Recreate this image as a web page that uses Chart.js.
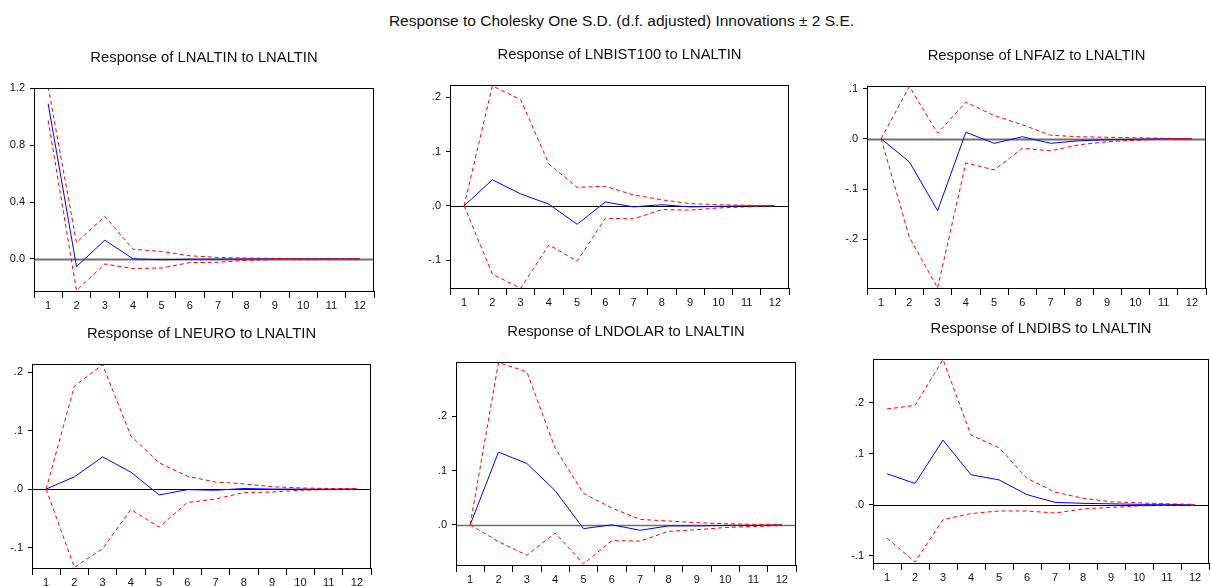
<!DOCTYPE html>
<html>
<head>
<meta charset="utf-8">
<script src="https://cdn.jsdelivr.net/npm/chart.js@4.4.1/dist/chart.umd.min.js"></script>
<style>
  html, body { margin: 0; padding: 0; background: #fff; overflow: hidden; }
  body { width: 1211px; height: 586px; position: relative; }
  #title { position: absolute; left: 0; width: 1243px; top: 12px; text-align: center;
           font: 15.5px "Liberation Sans", Arial, sans-serif; color: #111; }
  canvas { position: absolute; }
</style>
</head>
<body>
<div id="title">Response to Cholesky One S.D. (d.f. adjusted) Innovations ± 2 S.E.</div>
<script>
const horizons = ['1', '2', '3', '4', '5', '6', '7', '8', '9', '10', '11', '12'];

// LNALTIN to LNALTIN
const altinResp  = [1.092, -0.054, 0.132, 0.000, -0.006, -0.002, -0.002, 0.000, 0.000, 0.000, 0.000, 0.000];
const altinUpper = [1.210, 0.115, 0.299, 0.068, 0.052, 0.022, 0.010, 0.006, 0.004, 0.002, 0.001, 0.000];
const altinLower = [0.975, -0.223, -0.036, -0.068, -0.064, -0.026, -0.024, -0.010, -0.004, -0.002, -0.001, 0.000];
const altinTicks = [0, 0.4, 0.8, 1.2];

// LNBIST100 to LNALTIN
const bistResp  = [0.000, 0.048, 0.022, 0.003, -0.034, 0.007, -0.002, 0.002, -0.002, -0.001, 0.000, 0.000];
const bistUpper = [0.000, 0.221, 0.196, 0.077, 0.034, 0.036, 0.020, 0.011, 0.004, 0.002, 0.001, 0.000];
const bistLower = [0.000, -0.126, -0.152, -0.072, -0.102, -0.023, -0.024, -0.007, -0.008, -0.004, -0.002, 0.000];
const bistTicks = [-0.1, 0, 0.1, 0.2];

// LNFAIZ to LNALTIN
const faizResp  = [0.000, -0.046, -0.143, 0.013, -0.009, 0.004, -0.009, -0.004, -0.002, -0.001, 0.000, 0.000];
const faizUpper = [0.000, 0.104, 0.011, 0.073, 0.046, 0.028, 0.007, 0.004, 0.003, 0.002, 0.001, 0.000];
const faizLower = [0.000, -0.196, -0.297, -0.048, -0.062, -0.019, -0.024, -0.012, -0.006, -0.003, -0.001, 0.000];
const faizTicks = [-0.2, -0.1, 0, 0.1];

// LNEURO to LNALTIN
const euroResp  = [0.000, 0.021, 0.055, 0.029, -0.010, -0.001, -0.002, 0.001, 0.000, 0.000, 0.000, 0.000];
const euroUpper = [0.000, 0.176, 0.213, 0.091, 0.045, 0.022, 0.012, 0.009, 0.004, 0.002, 0.001, 0.001];
const euroLower = [0.000, -0.134, -0.102, -0.035, -0.065, -0.023, -0.017, -0.006, -0.005, -0.002, -0.001, 0.000];
const euroTicks = [-0.1, 0, 0.1, 0.2];

// LNDOLAR to LNALTIN
const dolarResp  = [0.000, 0.134, 0.113, 0.063, -0.007, 0.000, -0.010, -0.002, -0.002, -0.001, -0.001, 0.000];
const dolarUpper = [0.000, 0.299, 0.282, 0.141, 0.058, 0.031, 0.010, 0.007, 0.004, 0.002, 0.001, 0.001];
const dolarLower = [0.000, -0.031, -0.056, -0.015, -0.072, -0.029, -0.030, -0.012, -0.009, -0.005, -0.003, -0.001];
const dolarTicks = [0, 0.1, 0.2];

// LNDIBS to LNALTIN
const dibsResp  = [0.061, 0.042, 0.127, 0.059, 0.049, 0.020, 0.005, 0.003, 0.002, 0.001, 0.001, 0.000];
const dibsUpper = [0.188, 0.195, 0.285, 0.137, 0.112, 0.052, 0.025, 0.013, 0.006, 0.004, 0.002, 0.001];
const dibsLower = [-0.065, -0.112, -0.029, -0.017, -0.012, -0.012, -0.016, -0.008, -0.005, -0.002, -0.001, -0.001];
const dibsTicks = [-0.1, 0, 0.1, 0.2];

const panels = [
  { title: 'Response of LNALTIN to LNALTIN', resp: altinResp, up: altinUpper, lo: altinLower, ticks: altinTicks,
    min: -0.226, max: 1.203, box: [34, 88, 374, 291], zero: '#707070', zw: 2, lead: true },
  { title: 'Response of LNBIST100 to LNALTIN', resp: bistResp, up: bistUpper, lo: bistLower, ticks: bistTicks,
    min: -0.1515, max: 0.2227, box: [450, 85, 789, 288], zero: '#000', zw: 1, lead: false },
  { title: 'Response of LNFAIZ to LNALTIN', resp: faizResp, up: faizUpper, lo: faizLower, ticks: faizTicks,
    min: -0.297, max: 0.105, box: [867, 86, 1206, 288], zero: '#707070', zw: 2, lead: false },
  { title: 'Response of LNEURO to LNALTIN', resp: euroResp, up: euroUpper, lo: euroLower, ticks: euroTicks,
    min: -0.135, max: 0.214, box: [32, 364, 371, 568], zero: '#000', zw: 1, lead: false },
  { title: 'Response of LNDOLAR to LNALTIN', resp: dolarResp, up: dolarUpper, lo: dolarLower, ticks: dolarTicks,
    min: -0.074, max: 0.30, box: [456, 362, 796, 565], zero: '#707070', zw: 1.5, lead: false },
  { title: 'Response of LNDIBS to LNALTIN', resp: dibsResp, up: dibsUpper, lo: dibsLower, ticks: dibsTicks,
    min: -0.114, max: 0.286, box: [873, 359, 1209, 563], zero: '#000', zw: 1, lead: false }
];

const FONT = '"Liberation Sans", Arial, sans-serif';
const AXIS_W = 34, TOP = 45, BOTTOM = 24, RIGHT = 10;
const TITLE_SIZE = 14.8;

// frame round the plot and the zero line
const framePlugin = {
  id: 'frame',
  beforeDatasetsDraw(chart, args, opts) {
    const { ctx, chartArea: a } = chart;
    const y0 = Math.round(chart.scales.y.getPixelForValue(0)) + 0.5;
    ctx.save();
    ctx.strokeStyle = opts.zero;
    ctx.lineWidth = opts.zw;
    ctx.beginPath();
    ctx.moveTo(a.left, y0);
    ctx.lineTo(a.right, y0);
    ctx.stroke();
    ctx.restore();
  },
  afterDraw(chart) {
    const { ctx, chartArea: a } = chart;
    ctx.save();
    ctx.strokeStyle = '#000';
    ctx.lineWidth = 1;
    ctx.strokeRect(Math.round(a.left) + 0.5, Math.round(a.top) + 0.5,
                   Math.round(a.right - a.left) - 1, Math.round(a.bottom - a.top));
    ctx.restore();
  }
};

function fmt(v, lead) {
  let s = v.toFixed(1);
  if (!lead) s = s.replace('0.', '.');
  return s;
}

panels.forEach(p => {
  const [l, t, r, b] = p.box;
  const cv = document.createElement('canvas');
  const w = AXIS_W + (r - l) + RIGHT, h = TOP + (b - t) + BOTTOM;
  cv.width = w; cv.height = h;
  cv.style.left = (l - AXIS_W) + 'px';
  cv.style.top = (t - TOP) + 'px';
  cv.style.width = w + 'px'; cv.style.height = h + 'px';
  document.body.appendChild(cv);

  new Chart(cv, {
    type: 'line',
    data: {
      labels: horizons,
      datasets: [
        { data: p.up, borderColor: '#ff0000', borderWidth: 1, borderDash: [4, 3], pointRadius: 0, tension: 0 },
        { data: p.lo, borderColor: '#ff0000', borderWidth: 1, borderDash: [4, 3], pointRadius: 0, tension: 0 },
        { data: p.resp, borderColor: '#0000ff', borderWidth: 1, pointRadius: 0, tension: 0 }
      ]
    },
    options: {
      responsive: false,
      animation: false,
      events: [],
      layout: { padding: { top: 0, right: RIGHT, bottom: 0, left: 0 } },
      plugins: {
        legend: { display: false },
        tooltip: { enabled: false },
        title: {
          display: true,
          text: p.title,
          fullSize: false,
          color: '#111',
          font: { family: FONT, size: TITLE_SIZE, weight: 'normal', lineHeight: 1.2 },
          padding: { top: 5.6, bottom: TOP - 5.6 - TITLE_SIZE * 1.2 }
        },
        frame: { zero: p.zero, zw: p.zw }
      },
      scales: {
        x: {
          type: 'category',
          offset: true,
          grid: { display: true, offset: true, drawOnChartArea: false, tickLength: 7, color: '#000' },
          border: { color: '#000' },
          ticks: { color: '#111', font: { family: FONT, size: 11 }, padding: 1, maxRotation: 0, autoSkip: false },
          afterFit(s) { s.height = BOTTOM; }
        },
        y: {
          min: p.min,
          max: p.max,
          grid: { display: true, drawOnChartArea: false, tickLength: 4, color: '#000' },
          border: { color: '#000' },
          ticks: { color: '#111', font: { family: FONT, size: 11 }, padding: 5,
                   callback: v => fmt(v, p.lead) },
          afterBuildTicks(s) { s.ticks = p.ticks.map(v => ({ value: v })); },
          afterFit(s) { s.width = AXIS_W; }
        }
      }
    },
    plugins: [framePlugin]
  });
});
</script>
</body>
</html>
